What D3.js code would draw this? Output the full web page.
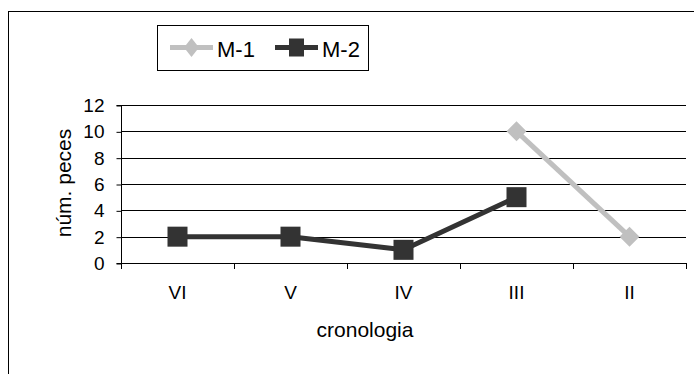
<!DOCTYPE html>
<html>
<head>
<meta charset="utf-8">
<script src="https://cdn.jsdelivr.net/npm/d3@7/dist/d3.min.js"></script>
<style>
  html, body { margin: 0; padding: 0; background: #fff; }
  svg { display: block; font-family: "Liberation Sans", Arial, sans-serif; }
</style>
</head>
<body>
<svg id="chart" width="694" height="374"></svg>
<script>
const categories = ["VI", "V", "IV", "III", "II"];
const seriesNames = ["M-1", "M-2"];
const m1Values = [null, null, null, 10, 2];
const m2Values = [2, 2, 1, 5, null];
const yTicks = [0, 2, 4, 6, 8, 10, 12];
const xTitle = "cronologia";
const yTitle = "núm. peces";

const colors = { "M-1": "#c0c0c0", "M-2": "#333333" };

const svg = d3.select("#chart");

// outer chart frame (cut off at right/bottom)
svg.append("rect")
  .attr("x", 8.5).attr("y", 11.5)
  .attr("width", 720).attr("height", 400)
  .attr("fill", "#fff").attr("stroke", "#000").attr("stroke-width", 1);

const plot = { left: 121, right: 686, top: 105, bottom: 263 };

const x = d3.scaleBand().domain(categories).range([plot.left, plot.right]).padding(0);
const y = d3.scaleLinear().domain([0, 12]).range([plot.bottom, plot.top]);

// gridlines
svg.append("g").selectAll("line")
  .data(yTicks.filter(d => d > 0))
  .join("line")
  .attr("x1", plot.left).attr("x2", plot.right)
  .attr("y1", d => Math.round(y(d)) + 0.5).attr("y2", d => Math.round(y(d)) + 0.5)
  .attr("stroke", "#000").attr("stroke-width", 1);

// y axis
const yAxis = svg.append("g")
  .attr("transform", `translate(${plot.left + 0.5},0.5)`)
  .call(d3.axisLeft(y).tickValues(yTicks).tickSize(5).tickPadding(12).tickFormat(d3.format("d")));
yAxis.select(".domain").attr("d", `M-5,${plot.bottom}H0V${plot.top}H-5`).attr("stroke", "#000");
yAxis.selectAll(".tick text").attr("font-size", 19).attr("fill", "#000")
  .attr("font-family", "'Liberation Sans', Arial, sans-serif");

// x axis line and ticks at band edges
const xg = svg.append("g");
xg.append("line")
  .attr("x1", plot.left).attr("x2", plot.right)
  .attr("y1", plot.bottom + 0.5).attr("y2", plot.bottom + 0.5)
  .attr("stroke", "#000");
const edges = categories.map(c => x(c)).concat([x(categories[categories.length - 1]) + x.bandwidth()]);
xg.selectAll("line.tk").data(edges).join("line").attr("class", "tk")
  .attr("x1", d => Math.round(d) + 0.5).attr("x2", d => Math.round(d) + 0.5)
  .attr("y1", plot.bottom).attr("y2", plot.bottom + 6)
  .attr("stroke", "#000");
xg.selectAll("text").data(categories).join("text")
  .attr("x", d => x(d) + x.bandwidth() / 2)
  .attr("y", 299)
  .attr("text-anchor", "middle")
  .attr("font-size", 19)
  .attr("fill", "#000")
  .text(d => d);

// axis titles
svg.append("text")
  .attr("x", 365).attr("y", 337)
  .attr("text-anchor", "middle").attr("font-size", 21).attr("fill", "#000")
  .text(xTitle);
svg.append("text")
  .attr("transform", `translate(71,183) rotate(-90)`)
  .attr("text-anchor", "middle").attr("font-size", 21).attr("fill", "#000")
  .text(yTitle);

// series
const cx = c => x(c) + x.bandwidth() / 2;
const line = d3.line().defined(d => d.v !== null).x(d => cx(d.c)).y(d => y(d.v));

const series = [
  { name: "M-1", values: m1Values, shape: "diamond" },
  { name: "M-2", values: m2Values, shape: "square" }
];

series.forEach(s => {
  const pts = categories.map((c, i) => ({ c, v: s.values[i] }));
  svg.append("path")
    .datum(pts)
    .attr("d", line)
    .attr("fill", "none")
    .attr("stroke", colors[s.name])
    .attr("stroke-width", 5)
    .attr("stroke-linejoin", "round");
  const g = svg.append("g");
  pts.filter(d => d.v !== null).forEach(d => {
    const px = cx(d.c), py = y(d.v);
    if (s.shape === "square") {
      g.append("rect")
        .attr("x", px - 10).attr("y", py - 10)
        .attr("width", 20).attr("height", 20)
        .attr("fill", colors[s.name]);
    } else {
      g.append("path")
        .attr("d", `M${px},${py - 10}L${px + 10},${py}L${px},${py + 10}L${px - 10},${py}Z`)
        .attr("fill", colors[s.name]);
    }
  });
});

// legend
const leg = svg.append("g");
leg.append("rect")
  .attr("x", 157.5).attr("y", 25.5).attr("width", 211).attr("height", 45)
  .attr("fill", "#fff").attr("stroke", "#000");
const legItems = [
  { name: seriesNames[0], x0: 170, x1: 213, shape: "diamond" },
  { name: seriesNames[1], x0: 275, x1: 318, shape: "square" }
];
legItems.forEach(it => {
  const ly = 47.5;
  leg.append("line")
    .attr("x1", it.x0).attr("x2", it.x1).attr("y1", ly).attr("y2", ly)
    .attr("stroke", colors[it.name]).attr("stroke-width", 5);
  const mx = (it.x0 + it.x1) / 2;
  if (it.shape === "square") {
    leg.append("rect").attr("x", mx - 7.5).attr("y", ly - 9).attr("width", 15).attr("height", 18)
      .attr("fill", colors[it.name]);
  } else {
    leg.append("path")
      .attr("d", `M${mx},${ly - 9.5}L${mx + 7.5},${ly}L${mx},${ly + 9.5}L${mx - 7.5},${ly}Z`)
      .attr("fill", colors[it.name]);
  }
  leg.append("text")
    .attr("x", it.x1 + 4).attr("y", 57)
    .attr("font-size", 22).attr("fill", "#000")
    .text(it.name);
});
</script>
</body>
</html>
